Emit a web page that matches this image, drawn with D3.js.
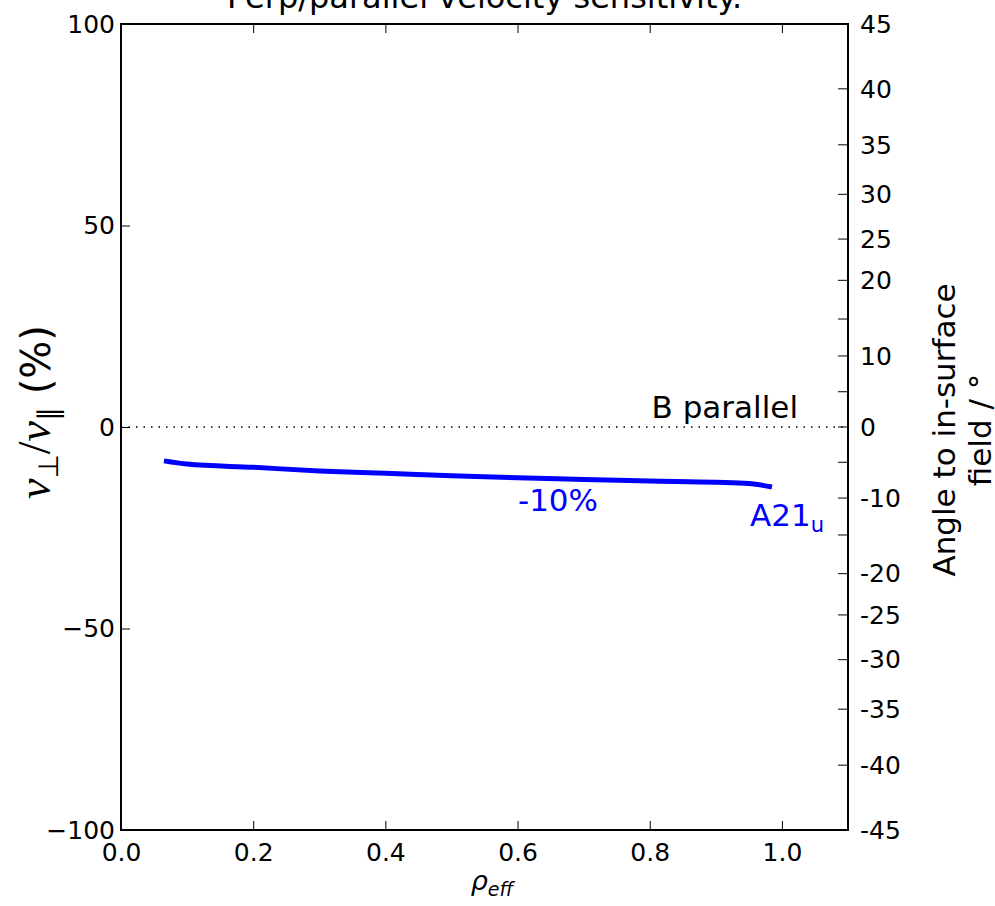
<!DOCTYPE html>
<html>
<head>
<script src="https://d3js.org/d3.v7.min.js"></script>
<style>
  body { margin: 0; background: #fff; }
  text { font-family: "DejaVu Sans", sans-serif; }
</style>
</head>
<body>
<svg id="chart" width="995" height="906"></svg>
<script>
// data
var rho = [0.065, 0.1, 0.2, 0.3, 0.4, 0.5, 0.6, 0.7, 0.8, 0.9, 0.95, 0.985];
var ratio = [-8.4, -9.2, -10.0, -10.9, -11.5, -12.1, -12.6, -13.0, -13.4, -13.7, -14.0, -14.9];
var xTicks = [0, 0.2, 0.4, 0.6, 0.8, 1.0];
var yTicks = [-100, -50, 0, 50, 100];
var angleTicks = [-45, -40, -35, -30, -25, -20, -15, -10, -5, 0, 5, 10, 15, 20, 25, 30, 35, 40, 45];
var angleLabelled = [-45, -40, -35, -30, -25, -20, -10, 0, 10, 20, 25, 30, 35, 40, 45];

var pL = 121, pR = 848, pT = 24, pB = 830;
var svg = d3.select("#chart");

var x = d3.scaleLinear().domain([0, 1.1]).range([pL, pR]);
var y = d3.scaleLinear().domain([-100, 100]).range([pB, pT]);

// title (cut off at top)
svg.append("text")
  .attr("x", (pL + pR) / 2).attr("y", 8)
  .attr("text-anchor", "middle").attr("font-size", 32)
  .text("Perp/parallel velocity sensitivity.");

// zero reference
svg.append("line")
  .attr("x1", pL).attr("x2", pR)
  .attr("y1", y(0)).attr("y2", y(0))
  .attr("stroke", "#000").attr("stroke-width", 1.5)
  .attr("stroke-dasharray", "1.5,6");

svg.append("text")
  .attr("x", 798).attr("y", 418).attr("text-anchor", "end")
  .attr("font-size", 31).text("B parallel");

// the series
var line = d3.line().x(function(d, i) { return x(rho[i]); }).y(function(d) { return y(d); })
  .curve(d3.curveMonotoneX);
svg.append("path")
  .datum(ratio)
  .attr("d", line)
  .attr("fill", "none").attr("stroke", "#0000ff").attr("stroke-width", 5);

svg.append("text")
  .attr("x", 558).attr("y", 511).attr("text-anchor", "middle")
  .attr("font-size", 31).attr("fill", "#0000ff").text("-10%");

var a21 = svg.append("text")
  .attr("x", 750).attr("y", 526)
  .attr("font-size", 31).attr("fill", "#0000ff");
a21.append("tspan").text("A21");
a21.append("tspan").attr("font-size", 21).attr("dy", 6).text("u");

// frame
svg.append("rect")
  .attr("x", pL).attr("y", pT)
  .attr("width", pR - pL).attr("height", pB - pT)
  .attr("fill", "none").attr("stroke", "#000").attr("stroke-width", 2);

// bottom and top ticks
var xb = d3.axisBottom(x).tickValues(xTicks).tickSizeInner(-9).tickSizeOuter(0).tickPadding(13)
  .tickFormat(d3.format(".1f"));
var gx = svg.append("g").attr("transform", "translate(0," + pB + ")").call(xb);
var xt = d3.axisTop(x).tickValues(xTicks).tickSizeInner(-9).tickSizeOuter(0).tickFormat("");
var gxt = svg.append("g").attr("transform", "translate(0," + pT + ")").call(xt);

// left ticks
var yl = d3.axisLeft(y).tickValues(yTicks).tickSizeInner(-9).tickSizeOuter(0).tickPadding(6)
  .tickFormat(function(d) { return d < 0 ? "\u2212" + Math.abs(d) : d; });
var gy = svg.append("g").attr("transform", "translate(" + pL + ",0)").call(yl);

// right ticks: angle placed at tan(angle) * 100 %
var yAngle = function(a) { return y(Math.tan(a * Math.PI / 180) * 100); };
var gr = svg.append("g").attr("transform", "translate(" + pR + ",0)");
gr.selectAll("line").data(angleTicks).enter().append("line")
  .attr("x1", -10).attr("x2", 0)
  .attr("y1", yAngle).attr("y2", yAngle)
  .attr("stroke", "#000").attr("stroke-width", 1);
gr.selectAll("text").data(angleLabelled).enter().append("text")
  .attr("x", 12).attr("y", yAngle).attr("dy", "0.35em")
  .attr("font-size", 25).text(function(d) { return d; });

[gx, gxt, gy].forEach(function(g) {
  g.select(".domain").remove();
  g.selectAll(".tick line").attr("stroke", "#000").attr("stroke-width", 1);
  g.selectAll(".tick text").attr("font-size", 25).attr("fill", "#000")
    .attr("font-family", "DejaVu Sans, sans-serif");
});

// axis labels
var xl = svg.append("text")
  .attr("x", 492).attr("y", 890).attr("text-anchor", "middle")
  .attr("font-family", "Liberation Serif, serif").attr("font-style", "italic").attr("font-size", 27);
xl.append("tspan").text("\u03c1");
xl.append("tspan").attr("font-size", 19).attr("dy", 6).text("eff");

var ylab = svg.append("text")
  .attr("transform", "translate(50,412) rotate(-90)")
  .attr("text-anchor", "middle").attr("font-size", 40);
ylab.append("tspan").attr("font-family", "Liberation Serif, serif").attr("font-style", "italic")
  .attr("font-size", 46).text("v");
ylab.append("tspan").attr("font-size", 28).attr("dy", 8).text("\u22a5");
ylab.append("tspan").attr("dy", -8).attr("font-family", "Liberation Serif, serif").attr("font-size", 46).text("/");
ylab.append("tspan").attr("font-family", "Liberation Serif, serif").attr("font-style", "italic")
  .attr("font-size", 46).text("v");
ylab.append("tspan").attr("font-size", 28).attr("dy", 8).text("\u2225");
ylab.append("tspan").attr("dy", -8).text(" (%)");

svg.append("text")
  .attr("transform", "translate(955,430) rotate(-90)")
  .attr("text-anchor", "middle").attr("font-size", 31)
  .text("Angle to in-surface");
svg.append("text")
  .attr("transform", "translate(991,430) rotate(-90)")
  .attr("text-anchor", "middle").attr("font-size", 31)
  .text("field / \u00b0");
</script>
</body>
</html>
